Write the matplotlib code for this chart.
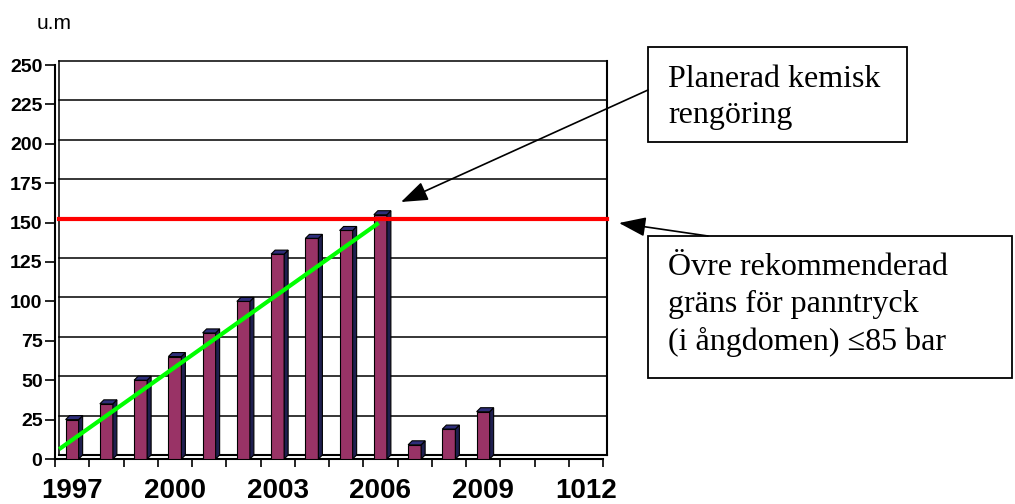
import matplotlib
matplotlib.use('Agg')
import matplotlib.pyplot as plt
import matplotlib.transforms as mtransforms
from matplotlib.patches import Polygon, Rectangle
import numpy as np

# data
years = list(range(1997, 2013))
values = [25, 35, 50, 65, 80, 100, 130, 140, 145, 155, 9, 19, 30]
tick_pos = [0, 3, 6, 9, 12, 15]
tick_labels = ['1997', '2000', '2003', '2006', '2009', '1012']
limit = 150
trend_x = [-0.33, 8.9]
trend_y = [7, 149]

box1_lines = ['Planerad kemisk', 'rengöring']
box2_lines = ['Övre rekommenderad', 'gräns för panntryck', '(i ångdomen) ≤85 bar']

W, H = 1015, 504
fig = plt.figure(figsize=(W / 100, H / 100), dpi=100)
fig.set_facecolor('w')
ax = fig.add_axes([55 / W, 1 - 459 / H, 548 / W, 394 / H])
ax.set_xlim(-0.5, len(years) - 0.5)
ax.set_ylim(0, 250)

# back wall of the 3d chart sits 4 px right and up
back = (mtransforms.blended_transform_factory(ax.transAxes, ax.transData)
        + mtransforms.ScaledTranslation(4 / 100, 4 / 100, fig.dpi_scale_trans))
for v in range(25, 251, 25):
    ax.plot([0, 1], [v, v], transform=back, color='k', lw=1.1, zorder=1,
            clip_on=False)
ax.plot([0, 0], [0, 250], transform=back, color='k', lw=1.1, clip_on=False)
ax.plot([1, 1], [0, 250], transform=back, color='k', lw=1.5, clip_on=False)
ax.plot([0, 1], [0, 0], transform=back, color='k', lw=1.5, clip_on=False)

# 3d bars
bw, dx, dy = 0.38, 0.117, 2.54
x = np.arange(len(values))
ax.bar(x, values, width=bw, color='#993366', edgecolor='k', lw=0.8, zorder=3)
for xi, v in zip(x, values):
    x0, x1 = xi - bw / 2, xi + bw / 2
    ax.add_patch(Polygon([(x1, 0), (x1 + dx, dy), (x1 + dx, v + dy), (x1, v)],
                         fc='#1f1f4f', ec='k', lw=0.8, zorder=3))
    ax.add_patch(Polygon([(x0, v), (x0 + dx, v + dy), (x1 + dx, v + dy), (x1, v)],
                         fc='#2e2e7a', ec='k', lw=0.8, zorder=3))

ax.plot([0, 1], [limit, limit], transform=back, color='#ff0000', lw=3,
        zorder=5, clip_on=False)
ax.plot(trend_x, trend_y, color='#00ff00', lw=3, zorder=6)

for s in ['top', 'right']:
    ax.spines[s].set_visible(False)
for s in ['left', 'bottom']:
    ax.spines[s].set_linewidth(1.5)

ax.set_yticks(range(0, 251, 25))
ax.set_yticklabels([str(v) for v in range(0, 251, 25)], fontsize=14,
                   fontweight='bold', family='Liberation Sans')
ax.tick_params(axis='y', length=7, width=1.2, pad=2)
ax.set_xticks(tick_pos)
ax.set_xticklabels(tick_labels, fontsize=20, fontweight='bold',
                   family='Liberation Sans')
ax.set_xticks(np.arange(-0.5, len(years), 1), minor=True)
ax.tick_params(axis='x', which='major', length=0, pad=13.5)
ax.tick_params(axis='x', which='minor', length=6, width=1.2)

fig.text(37 / W, 1 - 29 / H, 'u.m', fontsize=15, family='Liberation Sans',
         va='baseline')

serif = ['Liberation Serif', 'DejaVu Serif']
fig.add_artist(Rectangle((648 / W, 1 - 142 / H), (907 - 648) / W, 95 / H,
                         transform=fig.transFigure, fill=False, ec='k', lw=1.3))
for line, yb in zip(box1_lines, [87, 123]):
    fig.text(668 / W, 1 - yb / H, line, fontsize=23, family=serif,
             va='baseline')
fig.add_artist(Rectangle((648 / W, 1 - 378 / H), (1012 - 648) / W, 142 / H,
                         transform=fig.transFigure, fill=False, ec='k', lw=1.3))
for line, yb in zip(box2_lines, [275, 312, 350]):
    fig.text(668 / W, 1 - yb / H, line, fontsize=23, family=serif,
             va='baseline')

arrow = dict(arrowstyle='-|>,head_length=1.1,head_width=0.4', mutation_scale=15,
             color='k', lw=1.2, shrinkA=0, shrinkB=0)
ax.annotate('', xy=(401, H - 202), xycoords='figure pixels',
            xytext=(648, H - 90), textcoords='figure pixels',
            arrowprops=arrow, annotation_clip=False)
ax.annotate('', xy=(619, H - 223), xycoords='figure pixels',
            xytext=(708, H - 236), textcoords='figure pixels',
            arrowprops=arrow, annotation_clip=False)

fig.savefig('out.png', dpi=100)
